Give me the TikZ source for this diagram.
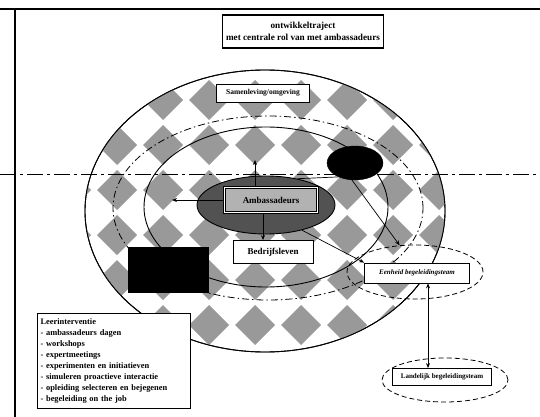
\documentclass[tikz,border=0pt]{standalone}
\usepackage{fontspec}
\setmainfont{Liberation Serif}
\usetikzlibrary{shapes.geometric,arrows.meta}
\begin{document}
\begin{tikzpicture}[x=1pt,y=-1pt,
  lbl/.style={draw, line width=0.8pt, fill=white, inner sep=2pt,
    font=\bfseries\fontsize{7.5}{8.5}\selectfont},
  conn/.style={line width=0.7pt},
  arr/.style={conn,-{Stealth[length=5pt,width=4pt]}},
  biarr/.style={conn,{Stealth[length=5pt,width=4pt]}-{Stealth[length=5pt,width=4pt]}},
  tile/.style={fill=black!40},
  ring/.style={ellipse, draw, line width=0.9pt, inner sep=0pt},
  dashdot/.style={line width=0.8pt, dash pattern=on 7pt off 3pt on 1.5pt off 3pt},
  team/.style={ellipse, draw, line width=0.8pt, dash pattern=on 5pt off 3pt, inner sep=0pt}
]
\useasboundingbox (0,0) rectangle (540,417);

% page frame
\draw[line width=1.5pt] (0,9) -- (540,9);
\draw[line width=2.2pt] (15,9) -- (15,417);

% title
\node[draw, line width=1.1pt, minimum width=150pt, minimum height=33pt, align=center,
  font=\bfseries\fontsize{9.2}{12}\selectfont] (title) at (303,31.5)
  {ontwikkeltraject\\met centrale rol van met ambassadeurs};

% outer ring with diamond tiling
\node[ring, fill=white, minimum width=360pt, minimum height=282pt] (outer) at (265,211) {};
\begin{scope}
  \clip (265,211) ellipse [x radius=180, y radius=141];
  \foreach \m in {-5,...,5}{
    \foreach \n in {0,...,5}{
      \fill[tile] ({255+46*\m},{80+45*\n}) -- ++(20,20) -- ++(-20,20) -- ++(-20,-20) -- cycle;
    }
  }
\end{scope}
\node[ring, minimum width=360pt, minimum height=282pt] at (outer.center) {};

% social ring and middle ring
\node[ellipse, draw, dashdot, inner sep=0pt, minimum width=310pt, minimum height=184pt] (social) at (268,208) {};
\node[ring, minimum width=244pt, minimum height=160pt] (mid) at (266,207) {};

% core
\node[ellipse, draw, line width=0.9pt, fill=black!68, inner sep=0pt,
  minimum width=138pt, minimum height=58pt] (core) at (266,205) {};
\node[lbl, fill=black!30, double, double distance=1pt, minimum width=93pt, minimum height=25pt,
  font=\bfseries\fontsize{9}{10}\selectfont] (amb) at (271,200) {Ambassadeurs};

% black shapes
\node[ellipse, draw, fill=black, inner sep=0pt, minimum width=56pt, minimum height=34pt] (blk) at (355,163) {};
\node[fill=black, inner sep=0pt, minimum width=81pt, minimum height=46pt] (blkbox) at (168,270) {};

% labels on the rings
\node[lbl, minimum width=93pt, minimum height=18pt] (soc) at (263,93) {Samenleving/omgeving};
\node[lbl, minimum width=80pt, minimum height=23pt, font=\bfseries\fontsize{9}{10}\selectfont] (bed) at (273,252) {Bedrijfsleven};

% horizontal division line
\coordinate (hl) at (0,174);
\coordinate (hr) at (540,174);
\draw[line width=0.6pt, dash pattern=on 16pt off 4pt on 3pt off 4pt] (hl) -- (hr);

% teams
\node[team, minimum width=136pt, minimum height=54pt] (teamE) at (415,272) {};
\node[lbl, minimum width=105pt, minimum height=20pt, font=\bfseries\itshape\fontsize{7}{8}\selectfont] (eenheid) at (417,273) {Eenheid begeleidingsteam};
\node[team, minimum width=126pt, minimum height=44pt] (teamL) at (445,380) {};
\node[lbl, minimum width=99pt, minimum height=17pt, font=\bfseries\fontsize{7}{8}\selectfont] (landelijk) at (442,377) {Landelijk begeleidingsteam};

% legend
\node[draw, line width=1pt, fill=white, anchor=north west, align=left, inner sep=3pt,
  minimum width=153pt, minimum height=95pt, text width=147pt,
  font=\bfseries\fontsize{8.4}{11}\selectfont] (legend) at (37,313)
  {Leerinterventie\\
   - ambassadeurs dagen\\
   - workshops\\
   - expertmeetings\\
   - experimenten en initiatieven\\
   - simuleren proactieve interactie\\
   - opleiding selecteren en bejegenen\\
   - begeleiding on the job};

% connectors
\coordinate (upTip) at (255,160);
\coordinate (leftTip) at (172,200);
\coordinate (linkX) at (428,0);
\draw[arr] (amb.north -| upTip) -- (upTip);
\draw[arr] (amb.west) -- (amb.west -| leftTip);
\draw[arr] ([xshift=-10pt]bed.north |- amb.south) -- ([xshift=-10pt]bed.north);
\draw[conn] (core.40) -- (blk.220);
\draw[arr] (core.-35) -- (eenheid.north west);
\draw[arr] (blk.-100) -- (teamE.120);
\draw[biarr] (eenheid.south -| linkX) -- (landelijk.north -| linkX);
\end{tikzpicture}
\end{document}
